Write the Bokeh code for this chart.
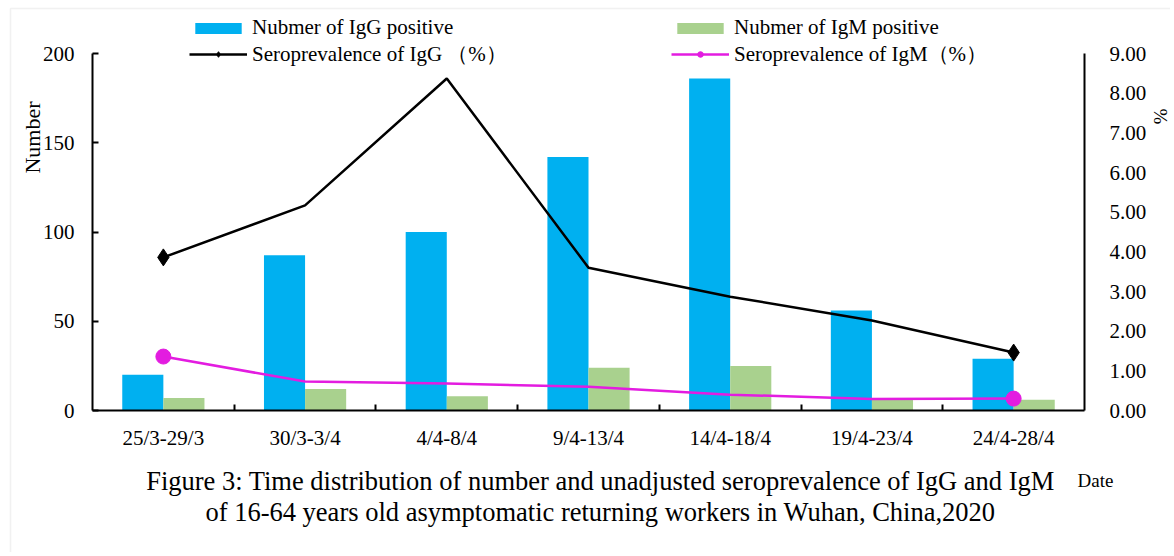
import math
import numpy as np
from bokeh.plotting import figure
from bokeh.models import (Range1d, LinearAxis, FixedTicker, NumeralTickFormatter,
                          Legend, LegendItem, Label, BoxAnnotation)
from bokeh.embed import file_html
from bokeh.resources import INLINE

# ---------------- data ----------------
categories = ["25/3-29/3", "30/3-3/4", "4/4-8/4", "9/4-13/4",
              "14/4-18/4", "19/4-23/4", "24/4-28/4"]
igg_num = [20, 87, 100, 142, 186, 56, 29]
igm_num = [7, 12, 8, 24, 25, 7, 6]
igg_pct = [3.86, 5.17, 8.37, 3.60, 2.87, 2.27, 1.46]
igm_pct = [1.36, 0.73, 0.68, 0.60, 0.40, 0.29, 0.30]
left_ticks = [0, 50, 100, 150, 200]
right_ticks = [0, 1, 2, 3, 4, 5, 6, 7, 8, 9]
left_max, right_max = 200, 9

FONT = "Liberation Serif"
TICK_SIZE = "21px"
W, H = 1170, 552
# plot area in page pixels
PX_L, PX_R, PX_T, PX_B = 92, 1084, 53, 410

n = len(categories)
x = np.arange(n) + 0.5
bw = 0.29

xs = (PX_R - PX_L) / n                 # px per category
ys_l = (PX_B - PX_T) / left_max        # px per count
ys_r = (PX_B - PX_T) / right_max       # px per percent

p = figure(width=W, height=H,
           x_range=Range1d(-PX_L / xs, n + (W - PX_R) / xs),
           y_range=Range1d(-(H - PX_B) / ys_l, PX_B / ys_l),
           output_backend="svg", toolbar_location=None, min_border=0)
p.extra_y_ranges = {"pct": Range1d(-(H - PX_B) / ys_r, PX_B / ys_r)}
p.xgrid.visible = False
p.ygrid.visible = False
p.outline_line_color = None
p.background_fill_color = "white"
p.border_fill_color = "white"

# bars
b1 = p.vbar(x=x - bw / 2, width=bw, top=igg_num, fill_color="#00B0F0", line_color=None)
b2 = p.vbar(x=x + bw / 2, width=bw, top=igm_num, fill_color="#A9D18E", line_color=None)

# lines
l1 = p.line(x, igg_pct, y_range_name="pct", line_color="black", line_width=2.5)
l2 = p.line(x, igm_pct, y_range_name="pct", line_color="#E31CE0", line_width=2.5)
ends = [0, n - 1]
s1 = p.scatter([x[i] for i in ends], [igg_pct[i] for i in ends], y_range_name="pct",
               marker="diamond", size=17, fill_color="black", line_color="black")
s2 = p.scatter([x[i] for i in ends], [igm_pct[i] for i in ends], y_range_name="pct",
               marker="circle", size=15, fill_color="#E31CE0", line_color="#E31CE0")

# x axis
xa = p.xaxis[0]
xa.fixed_location = 0
xa.bounds = (0, n)
xa.ticker = FixedTicker(ticks=list(x), minor_ticks=list(np.arange(1, n)))
xa.major_label_overrides = {float(v): c for v, c in zip(x, categories)}
xa.major_tick_line_color = None
xa.minor_tick_in = 6
xa.minor_tick_out = 0
xa.minor_tick_line_color = "black"
xa.minor_tick_line_width = 2
xa.axis_line_color = "black"
xa.axis_line_width = 2
xa.major_label_standoff = 9
xa.major_label_text_font = FONT
xa.major_label_text_font_size = TICK_SIZE
xa.major_label_text_color = "black"

# left axis
ya = p.yaxis[0]
ya.fixed_location = 0
ya.ticker = FixedTicker(ticks=left_ticks)
ya.bounds = (0, left_max)
ya.major_tick_in = 6
ya.major_tick_out = 0
ya.minor_tick_line_color = None
ya.major_tick_line_color = "black"
ya.major_tick_line_width = 2
ya.axis_line_color = "black"
ya.axis_line_width = 2
ya.major_label_standoff = 18
ya.major_label_text_font = FONT
ya.major_label_text_font_size = TICK_SIZE
ya.major_label_text_color = "black"

# right axis
ra = LinearAxis(y_range_name="pct", ticker=FixedTicker(ticks=right_ticks),
                formatter=NumeralTickFormatter(format="0.00"), bounds=(0, right_max),
                fixed_location=n)
ra.major_tick_line_color = None
ra.minor_tick_line_color = None
ra.axis_line_color = "black"
ra.axis_line_width = 2
ra.major_label_standoff = 19
ra.major_label_text_font = FONT
ra.major_label_text_font_size = TICK_SIZE
ra.major_label_text_color = "black"
p.add_layout(ra, "right")

# legend
legend = Legend(items=[
    LegendItem(label="Nubmer of IgG positive", renderers=[b1]),
    LegendItem(label="Seroprevalence of IgG （%）", renderers=[l1, s1]),
    LegendItem(label="Nubmer of IgM positive", renderers=[b2]),
    LegendItem(label="Seroprevalence of IgM（%）", renderers=[l2, s2]),
], ncols=2, orientation="vertical", location=(189, H - 68),
    border_line_color=None, background_fill_alpha=0,
    padding=0, margin=0, spacing=0, glyph_width=58, glyph_height=14,
    label_standoff=5, label_width=419, label_height=18,
    label_text_font=FONT, label_text_font_size="21px", label_text_color="black",
    label_text_line_height=1.0)
p.add_layout(legend)


# texts (screen units, origin at bottom-left of the canvas)
def lab(text, px, py, size, angle=0.0, align="center"):
    p.add_layout(Label(x=px, y=H - py, x_units="screen", y_units="screen", text=text,
                       text_font=FONT, text_font_size=size, text_color="black",
                       text_align=align, text_baseline="middle", angle=angle))


lab("Number", 32, 137, "22px", angle=math.pi / 2)
lab("%", 1160, 116, "19px", angle=-math.pi / 2)
lab("Date", 1095, 480, "19px")
lab("Figure 3: Time distribution of number and unadjusted seroprevalence of IgG and IgM",
    600, 480, "26.5px")
lab("of 16-64 years old asymptomatic returning workers in Wuhan, China,2020",
    600, 511, "26.5px")

# light chart-area border
p.add_layout(BoxAnnotation(left=10, right=W + 10, bottom=-10, top=H - 8,
                           left_units="screen", right_units="screen",
                           bottom_units="screen", top_units="screen",
                           fill_alpha=0, line_color="#D0D0D0", line_width=1.5))

open("out.html", "w").write(file_html(p, INLINE))
